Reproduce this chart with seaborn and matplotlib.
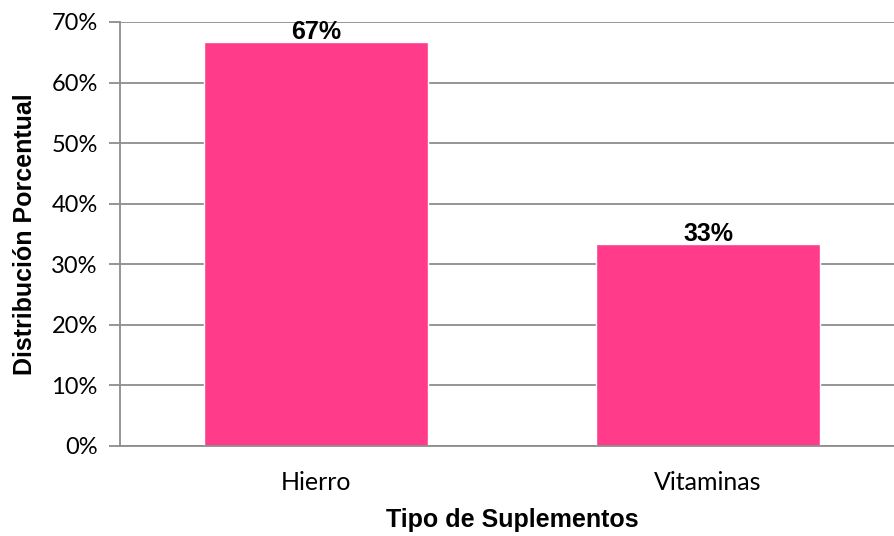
import matplotlib
matplotlib.use("Agg")
import matplotlib.pyplot as plt
import seaborn as sns
import pandas as pd
from matplotlib.ticker import FuncFormatter, MultipleLocator

categories = ["Hierro", "Vitaminas"]
values = [66.7, 33.3]
value_labels = ["67%", "33%"]

sns.set_theme(style="white")
plt.rcParams['font.family'] = ['Lato', 'DejaVu Sans']
plt.rcParams['text.color'] = 'black'
plt.rcParams['axes.labelcolor'] = 'black'

df = pd.DataFrame({"cat": categories, "val": values})

fig = plt.figure(figsize=(8.94, 5.36), dpi=100)
ax = fig.add_axes([120/894, 90/536, 784/894, 424/536])
sns.barplot(data=df, x="cat", y="val", color="#FF3B8A", width=0.57, saturation=1, ax=ax)

ax.set_xlim(-0.5, 1.5)
ax.set_ylim(0, 70)
ax.yaxis.set_major_locator(MultipleLocator(10))
ax.yaxis.set_major_formatter(FuncFormatter(lambda v, p: f"{int(round(v))}%"))
ax.set_axisbelow(True)
ax.grid(axis="y", color="#8c8c8c", linewidth=1.3)
ax.grid(axis="x", visible=False)
for s in ["top", "right"]:
    ax.spines[s].set_visible(False)
for s in ["left", "bottom"]:
    ax.spines[s].set_color("#8c8c8c")
    ax.spines[s].set_linewidth(1.3)
ax.tick_params(axis="y", which="major", left=True, length=8, width=1.3, color="#8c8c8c",
               labelsize=17, pad=8, labelcolor="black")
ax.tick_params(axis="x", bottom=False, labelsize=18, pad=12, labelcolor="black")

for i, (v, lab) in enumerate(zip(values, value_labels)):
    ax.text(i, v - 0.3, lab, ha="center", va="bottom", fontsize=18, fontweight="bold",
            family="Liberation Sans", color="black")

ax.set_xlabel("Tipo de Suplementos", fontsize=18, fontweight="bold", family="Liberation Sans",
              labelpad=10, color="black")
ax.set_ylabel("Distribución Porcentual", fontsize=18, fontweight="bold", family="Liberation Sans",
              labelpad=10, color="black")

fig.savefig("out.png", dpi=100)
